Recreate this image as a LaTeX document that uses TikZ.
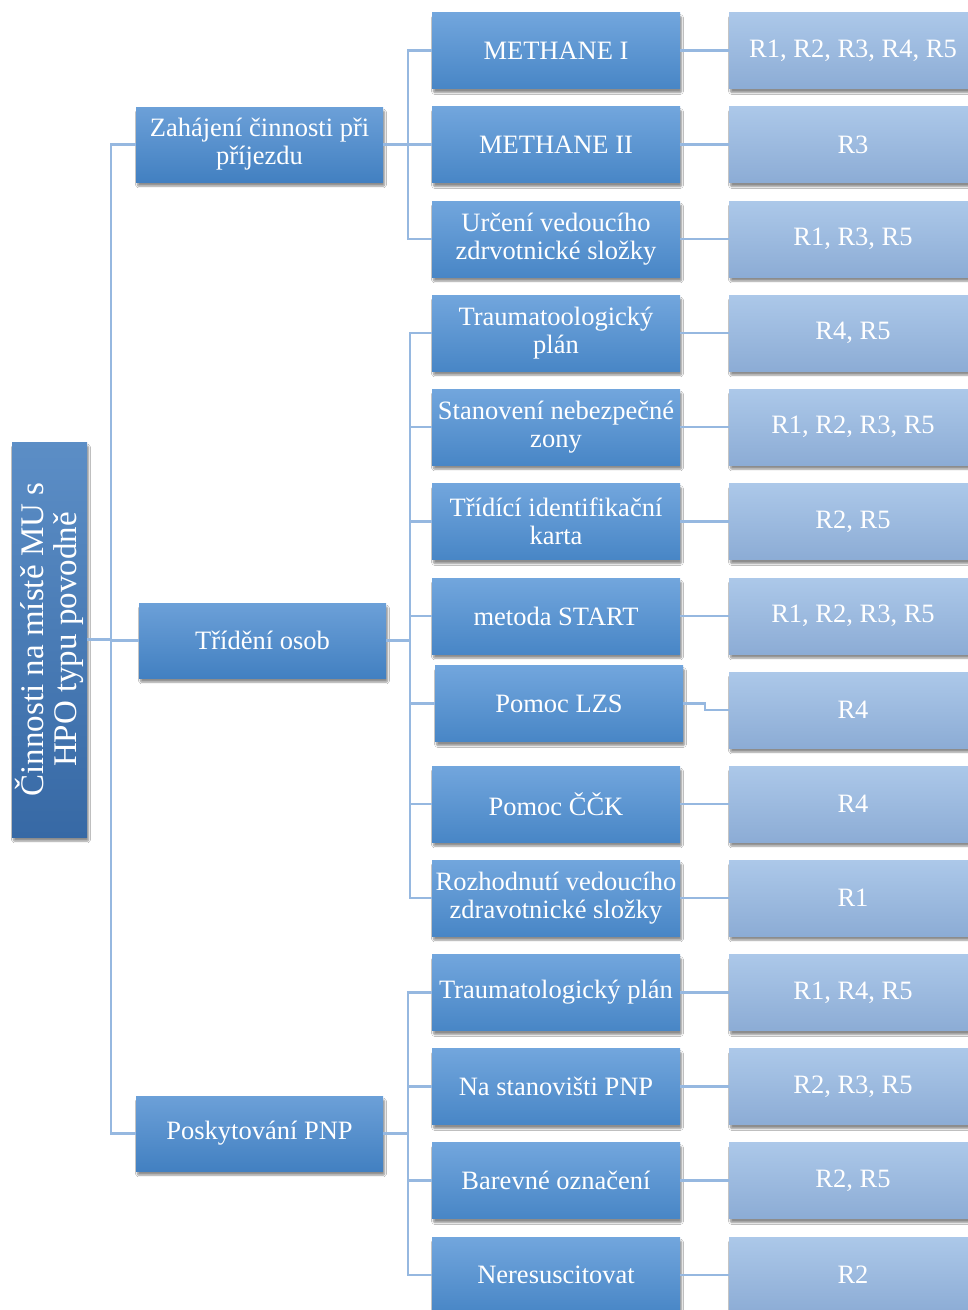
\documentclass[tikz,border=0pt]{standalone}
\usepackage{fontspec}
\setmainfont{Liberation Serif}
\usetikzlibrary{shadows,shadows.blur}
\definecolor{rootT}{RGB}{92,142,198}
\definecolor{rootB}{RGB}{55,105,165}
\definecolor{midT}{RGB}{108,160,216}
\definecolor{midB}{RGB}{66,128,193}
\definecolor{lvlT}{RGB}{114,166,221}
\definecolor{lvlB}{RGB}{72,134,198}
\definecolor{resT}{RGB}{172,200,233}
\definecolor{resB}{RGB}{140,172,213}
\definecolor{lineC}{RGB}{150,184,224}
\tikzset{
  boxbase/.style={rectangle, text=white, align=center, inner sep=2pt,
    blur shadow={shadow xshift=1.5pt, shadow yshift=-4pt, shadow opacity=45, shadow blur steps=6, shadow blur extra rounding=1pt},
    font=\fontsize{26.5}{28}\selectfont},
  rootbox/.style={boxbase, top color=rootT, bottom color=rootB, minimum width=395pt, minimum height=75pt,
    font=\fontsize{33}{33}\selectfont},
  midbox/.style={boxbase, top color=midT, bottom color=midB, minimum width=247pt, minimum height=75pt},
  lvlbox/.style={boxbase, top color=lvlT, bottom color=lvlB, minimum width=248pt, minimum height=76pt},
  resbox/.style={boxbase, top color=resT, bottom color=resB, minimum width=248pt, minimum height=76pt},
  conn/.style={draw=lineC, line width=2.2pt}
}
\begin{document}
\begin{tikzpicture}[x=1pt, y=-1pt]
\clip (0,0) rectangle (968,1310);
\fill[white] (0,0) rectangle (968,1310);
% root
\node[rootbox, rotate=90] (root) at (49.5,639.5) {Činnosti na místě MU s\\HPO typu povodně};
% level 2
\node[midbox] (z) at (259.5,144.5) {Zahájení činnosti při\\příjezdu};
\node[midbox] (t) at (262.5,640.5) {Třídění osob};
\node[midbox] (p) at (259.5,1133.5) {Poskytování PNP};
% level 3
\node[lvlbox] (a1) at (556,50.5) {METHANE I};
\node[lvlbox] (a2) at (556,144.5) {METHANE II};
\node[lvlbox] (a3) at (556,239) {Určení vedoucího\\zdrvotnické složky};
\node[lvlbox] (b1) at (556,333) {Traumatoologický\\plán};
\node[lvlbox] (b2) at (556,427) {Stanovení nebezpečné\\zony};
\node[lvlbox] (b3) at (556,521.5) {Třídící identifikační\\karta};
\node[lvlbox] (b4) at (556,616) {metoda START};
\node[lvlbox] (b5) at (559,703.5) {Pomoc LZS};
\node[lvlbox] (b6) at (556,804) {Pomoc ČČK};
\node[lvlbox] (b7) at (556,898) {Rozhodnutí vedoucího\\zdravotnické složky};
\node[lvlbox] (c1) at (556,992.5) {Traumatologický plán};
\node[lvlbox] (c2) at (556,1086.5) {Na stanovišti PNP};
\node[lvlbox] (c3) at (556,1180.5) {Barevné označení};
\node[lvlbox] (c4) at (556,1275) {Neresuscitovat};
% results
\node[resbox] (ra1) at (853,50.5) {R1, R2, R3, R4, R5};
\node[resbox] (ra2) at (853,144.5) {R3};
\node[resbox] (ra3) at (853,239) {R1, R3, R5};
\node[resbox] (rb1) at (853,333) {R4, R5};
\node[resbox] (rb2) at (853,427) {R1, R2, R3, R5};
\node[resbox] (rb3) at (853,521.5) {R2, R5};
\node[resbox] (rb4) at (853,616) {R1, R2, R3, R5};
\node[resbox] (rb5) at (853,710) {R4};
\node[resbox] (rb6) at (853,804) {R4};
\node[resbox] (rb7) at (853,898) {R1};
\node[resbox] (rc1) at (853,992.5) {R1, R4, R5};
\node[resbox] (rc2) at (853,1086.5) {R2, R3, R5};
\node[resbox] (rc3) at (853,1180.5) {R2, R5};
\node[resbox] (rc4) at (853,1275) {R2};
% connectors
\foreach \c in {z,t,p} \draw[conn] (root.south) -- ++(24,0) |- (\c.west);
\foreach \c in {a1,a2,a3} \draw[conn] (z.east) -- ++(25,0) |- (\c.west);
\foreach \c in {b1,b2,b3,b4,b5,b6,b7} \draw[conn] (t.east) -- ++(24,0) |- (\c.west);
\foreach \c in {c1,c2,c3,c4} \draw[conn] (p.east) -- ++(25,0) |- (\c.west);
\foreach \c in {a1,a2,a3,b1,b2,b3,b4,b6,b7,c1,c2,c3,c4} \draw[conn] (\c.east) -- (r\c.west);
\draw[conn] (b5.east) -- ++(22,0) |- (rb5.west);
\end{tikzpicture}
\end{document}
